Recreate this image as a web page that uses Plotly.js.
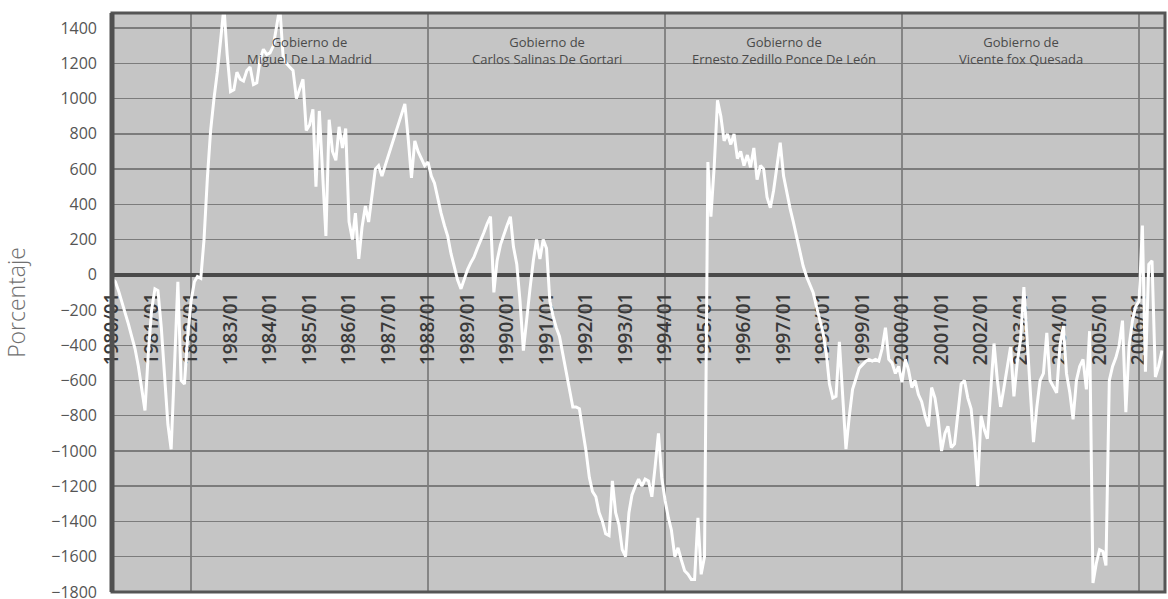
<!DOCTYPE html>
<html>
<head>
<meta charset="utf-8">
<script src="https://cdn.plot.ly/plotly-3.0.1.min.js"></script>
<style>html,body{margin:0;padding:0;background:#fff;}#chart{width:1168px;height:599px;}</style>
</head>
<body>
<div id="chart"></div>
<script>
// Monthly values (percent), one array per year
const v1980 = [-20, -40, -90, -150, -210, -280, -350, -420, -520, -640, -770, -450];
const v1981 = [-200, -80, -90, -300, -600, -850, -990, -500, -40, -600, -620, -350];
const v1982 = [-150, -40, -10, -20, 200, 550, 820, 1000, 1150, 1330, 1520, 1250];
const v1983 = [1040, 1050, 1150, 1110, 1100, 1160, 1180, 1080, 1090, 1220, 1280, 1250];
const v1984 = [1260, 1300, 1420, 1520, 1240, 1200, 1180, 1160, 1000, 1050, 1110, 820];
const v1985 = [850, 940, 500, 930, 610, 220, 880, 700, 650, 840, 720, 830];
const v1986 = [300, 200, 350, 90, 270, 390, 300, 450, 600, 620, 560, 620];
const v1987 = [680, 740, 800, 860, 920, 970, 780, 550, 760, 700, 660, 620];
const v1988 = [640, 560, 520, 430, 350, 280, 220, 120, 40, -30, -80, -20];
const v1989 = [30, 70, 100, 150, 190, 240, 290, 330, -100, 80, 170, 230];
const v1990 = [280, 330, 160, 60, -150, -430, -250, -80, 80, 200, 90, 200];
const v1991 = [150, -150, -230, -300, -350, -450, -560, -650, -750, -750, -760, -880];
const v1992 = [-1000, -1150, -1230, -1260, -1350, -1400, -1470, -1480, -1170, -1350, -1420, -1560];
const v1993 = [-1600, -1350, -1250, -1200, -1160, -1200, -1160, -1170, -1260, -1090, -900, -1150];
const v1994 = [-1280, -1380, -1450, -1600, -1550, -1620, -1680, -1700, -1730, -1730, -1380, -1700];
const v1995 = [-1600, 640, 330, 620, 990, 900, 760, 800, 740, 800, 660, 700];
const v1996 = [620, 680, 610, 720, 540, 620, 600, 440, 380, 480, 620, 750];
const v1997 = [560, 460, 380, 300, 220, 130, 50, -10, -60, -100, -180, -250];
const v1998 = [-330, -450, -620, -700, -690, -380, -700, -990, -800, -650, -590, -530];
const v1999 = [-510, -490, -480, -490, -480, -490, -420, -300, -480, -500, -560, -520];
const v2000 = [-610, -480, -540, -640, -600, -680, -720, -800, -860, -640, -700, -820];
const v2001 = [-1000, -900, -860, -980, -960, -780, -620, -600, -700, -760, -950, -1200];
const v2002 = [-800, -880, -930, -650, -390, -600, -750, -640, -520, -410, -690, -500];
const v2003 = [-370, -70, -350, -640, -950, -750, -600, -560, -330, -600, -640, -670];
const v2004 = [-400, -290, -560, -670, -820, -600, -520, -480, -650, -320, -1750, -1640];
const v2005 = [-1560, -1570, -1650, -600, -520, -470, -400, -260, -780, -400, -260, -180];
const v2006 = [-150, 280, -550, 60, 80, -580, -520, -430];

const years = [1980,1981,1982,1983,1984,1985,1986,1987,1988,1989,1990,1991,1992,1993,
               1994,1995,1996,1997,1998,1999,2000,2001,2002,2003,2004,2005,2006];
const yearValues = [v1980,v1981,v1982,v1983,v1984,v1985,v1986,v1987,v1988,v1989,v1990,
                    v1991,v1992,v1993,v1994,v1995,v1996,v1997,v1998,v1999,v2000,v2001,
                    v2002,v2003,v2004,v2005,v2006];

// x tick labels exactly as printed on the original (including its typo)
const xTickLabels = ["1980/01","1981/01","1882/01","1983/01","1984/01","1985/01","1986/01",
  "1987/01","1988/01","1989/01","1990/01","1991/01","1992/01","1993/01","1994/01","1995/01",
  "1996/01","1997/01","1998/01","1999/01","2000/01","2001/01","2002/01","2003/01","2004/01",
  "2005/01","2006/01"];

// Government periods (boundaries and labels)
const govBoundaries = ['1982-01-01','1988-01-01','1994-01-01','2000-01-01','2006-01-01'];
const govCenters = ['1985-01-01','1991-01-01','1997-01-01','2003-01-01'];
const govLabels = ["Gobierno de<br>Miguel De La Madrid",
                   "Gobierno de<br>Carlos Salinas De Gortari",
                   "Gobierno de<br>Ernesto Zedillo Ponce De León",
                   "Gobierno de<br>Vicente fox Quesada"];

const yTitle = "Porcentaje";

// Build series
const xs = [], ys = [];
years.forEach((yr, i) => {
  yearValues[i].forEach((v, m) => {
    xs.push(yr + '-' + String(m + 1).padStart(2, '0') + '-01');
    ys.push(v);
  });
});
const tickVals = years.map(y => y + '-01-01');

const yMin = -1800.5, yMax = 1486;
const xRange = ['1980-01-01', '2006-08-29'];
const zeroPos = (0 - yMin) / (yMax - yMin);

const trace = {
  type: 'scatter', mode: 'lines', x: xs, y: ys,
  line: {color: '#ffffff', width: 3},
  hoverinfo: 'x+y', showlegend: false
};

const annotations = govLabels.map((t, i) => ({
  x: govCenters[i], xref: 'x', y: 0.936, yref: 'paper',
  text: t, showarrow: false, xanchor: 'center', yanchor: 'middle',
  font: {family: 'Open Sans, sans-serif', size: 13, color: '#4a4a4a'},
  align: 'center'
}));

const layout = {
  width: 1168, height: 599,
  margin: {l: 112, r: 3, t: 13, b: 7},
  paper_bgcolor: '#ffffff',
  plot_bgcolor: '#c5c5c5',
  showlegend: false,
  xaxis: {
    type: 'date', range: xRange,
    anchor: 'free', position: zeroPos, side: 'bottom',
    tickmode: 'array', tickvals: tickVals, ticktext: xTickLabels,
    tickangle: -90, ticks: '', ticklabelstandoff: 13,
    tickfont: {family: 'Open Sans, sans-serif', size: 19, color: '#3a3a3a', weight: 600},
    showgrid: false, zeroline: false, showline: false,
    layer: 'below traces',
    minor: {tickmode: 'array', tickvals: govBoundaries, showgrid: true,
            gridcolor: '#858585', gridwidth: 1.5, ticks: ''}
  },
  yaxis: {
    range: [yMin, yMax], tickmode: 'linear', tick0: 0, dtick: 200,
    showgrid: true, gridcolor: '#7c7c7c', gridwidth: 1.5,
    zeroline: true, zerolinecolor: '#4a4a4a', zerolinewidth: 4,
    ticks: '', ticklabelstandoff: 14, ticklabeloverflow: 'allow',
    tickfont: {family: 'Open Sans, sans-serif', size: 16, color: '#555555'},
    title: {text: yTitle, standoff: 24,
            font: {family: 'Open Sans, sans-serif', size: 23, color: '#707070', weight: 300}},
    showline: false, automargin: false
  },
  annotations: annotations,
  shapes: [
    {type: 'rect', xref: 'paper', yref: 'paper', x0: 0, x1: 1, y0: 0, y1: 1,
     line: {color: '#555555', width: 3}, layer: 'above'},
    {type: 'line', xref: 'paper', yref: 'paper', x0: 0, x1: 0, y0: 0, y1: 1,
     line: {color: '#505050', width: 5}, layer: 'above'}
  ]
};

Plotly.newPlot('chart', [trace], layout, {displayModeBar: false, staticPlot: true});
</script>
</body>
</html>
